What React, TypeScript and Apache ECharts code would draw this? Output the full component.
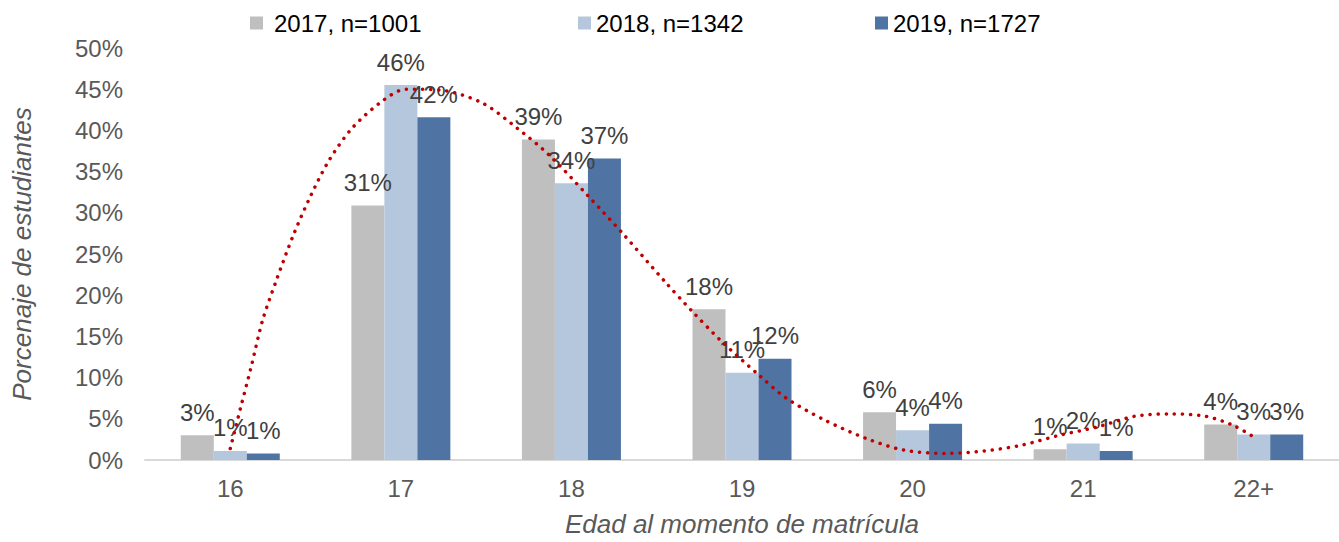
import React, { useEffect, useRef } from "react";
import * as echarts from "echarts";

const categories = ["16", "17", "18", "19", "20", "21", "22+"];
const s2017 = [3.0, 30.9, 38.9, 18.3, 5.8, 1.3, 4.3];
const s2018 = [1.1, 45.5, 33.6, 10.6, 3.6, 2.0, 3.1];
const s2019 = [0.8, 41.6, 36.6, 12.3, 4.4, 1.1, 3.1];
const seriesNames = ["2017, n=1001", "2018, n=1342", "2019, n=1727"];

// trendline (category index position, percent)
const trendX = [0, 0.06, 0.12, 0.19, 0.27, 0.37, 0.47, 0.58, 0.72, 0.9, 1.03, 1.23, 1.48, 1.68, 1.87, 2.1, 2.3, 2.55, 2.71, 2.88, 3.1, 3.26, 3.48, 3.73, 3.95, 4.19, 4.42, 4.64, 4.86, 5.08, 5.3, 5.51, 5.72, 5.88, 6.0];
const trendY = [1.4, 6.3, 11.1, 17.0, 21.8, 27.3, 32.0, 36.4, 40.4, 43.7, 45.0, 44.9, 43.3, 40.3, 37.0, 32.0, 27.5, 21.6, 18.0, 14.4, 10.3, 7.5, 4.9, 2.6, 1.2, 0.8, 1.1, 1.8, 3.0, 4.0, 5.3, 5.6, 5.3, 4.2, 2.8];

const colors = ["#BFBFBF", "#B4C7DD", "#4F74A3"];
const FONT = "Liberation Sans, Arial, sans-serif";

export default function App() {
  const ref = useRef<HTMLDivElement>(null);
  useEffect(() => {
    if (!ref.current) return;
    const chart = echarts.init(ref.current, undefined, { renderer: "svg" });
    const label = {
      show: true,
      position: "top",
      distance: 11,
      color: "#404040",
      fontSize: 24,
      fontFamily: FONT,
      formatter: (p: any) => Math.round(p.value) + "%",
    };
    const legendBase = {
      top: 6,
      itemWidth: 13,
      itemHeight: 13,
      icon: "rect",
      textStyle: { color: "#000", fontSize: 24, fontFamily: FONT },
    };
    chart.setOption({
      animation: false,
      textStyle: { fontFamily: FONT },
      legend: [
        { ...legendBase, left: 245, data: [seriesNames[0]], textStyle: { ...legendBase.textStyle, padding: [0, 0, 0, 6] } },
        { ...legendBase, left: 573, data: [seriesNames[1]] },
        { ...legendBase, left: 870, data: [seriesNames[2]] },
      ],
      grid: { left: 145, right: -4, top: 48, bottom: 82 },
      xAxis: [
        {
          type: "category",
          data: categories,
          axisLine: { lineStyle: { color: "#D9D9D9", width: 2 } },
          axisTick: { show: false },
          axisLabel: { color: "#595959", fontSize: 24, margin: 16, fontFamily: FONT },
          name: "Edad al momento de matrícula",
          nameLocation: "middle",
          nameGap: 51,
          nameTextStyle: { color: "#595959", fontSize: 26, fontStyle: "italic", fontFamily: FONT },
        },
        { type: "value", min: -0.5, max: 6.5, show: false },
      ],
      yAxis: {
        type: "value",
        min: 0,
        max: 50,
        interval: 5,
        splitLine: { show: false },
        axisLine: { show: false },
        axisTick: { show: false },
        axisLabel: { color: "#595959", fontSize: 24, margin: 22, formatter: "{value}%", fontFamily: FONT },
        name: "Porcenaje de estudiantes",
        nameLocation: "middle",
        nameGap: 110,
        nameTextStyle: { color: "#595959", fontSize: 26, fontStyle: "italic", fontFamily: FONT },
      },
      series: [
        { name: seriesNames[0], type: "bar", data: s2017, barWidth: 33, barGap: "0%", itemStyle: { color: colors[0] }, label },
        { name: seriesNames[1], type: "bar", data: s2018, barWidth: 33, barGap: "0%", itemStyle: { color: colors[1] }, label },
        { name: seriesNames[2], type: "bar", data: s2019, barWidth: 33, barGap: "0%", itemStyle: { color: colors[2] }, label },
        {
          name: "trend",
          type: "line",
          xAxisIndex: 1,
          yAxisIndex: 0,
          data: trendX.map((x, i) => [x, trendY[i]]),
          smooth: 0.3,
          showSymbol: false,
          symbol: "none",
          lineStyle: { color: "#C00000", width: 3.5, type: [0.1, 8], cap: "round" },
          z: 5,
        },
      ],
    });
    return () => chart.dispose();
  }, []);
  return <div ref={ref} style={{ position: "absolute", left: 0, top: 0, width: 1339, height: 542 }} />;
}
